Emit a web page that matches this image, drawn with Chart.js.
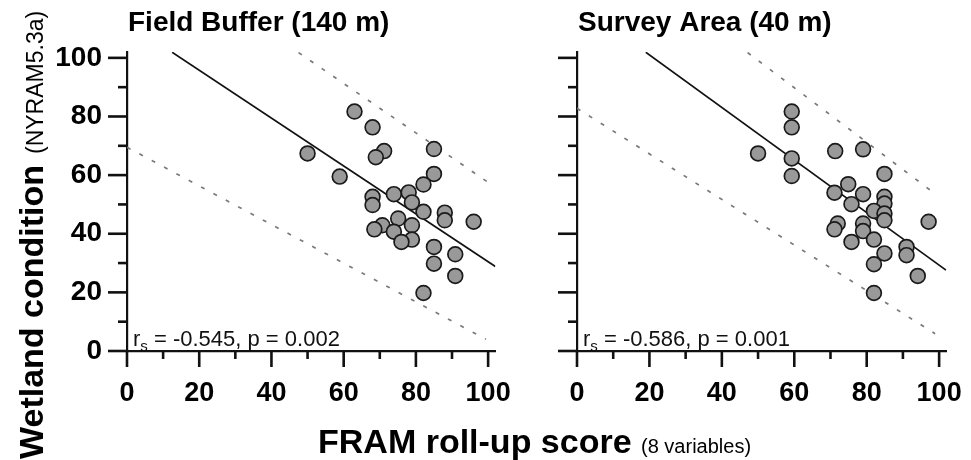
<!DOCTYPE html>
<html><head><meta charset="utf-8">
<script src="https://cdn.jsdelivr.net/npm/chart.js@4/dist/chart.umd.min.js"></script>
<style>
body{margin:0;background:#fff;}
#wrap{position:relative;width:971px;height:460px;overflow:hidden;font-family:"Liberation Sans",Arial,sans-serif;}
canvas{position:absolute;top:0;}
#xt{position:absolute;left:318px;top:421px;line-height:40px;white-space:nowrap;color:#000;}
</style></head><body>
<div id="wrap">
<canvas id="c1" width="520" height="460" style="left:0;width:520px;height:460px"></canvas>
<canvas id="c2" width="451" height="460" style="left:520px;width:451px;height:460px"></canvas>
<div id="xt"><span style="font-weight:bold;font-size:34px">FRAM roll-up score&nbsp;</span><span style="font-size:20px">(8 variables)</span></div>
</div>
<script>
// ---- data ----
const tickValues = [0,10,20,30,40,50,60,70,80,90,100];
const tickLabels = [0,20,40,60,80,100];

const bufferX = [63.0,68.0,50.0,71.2,68.9,85.0,58.9,85.0,82.1,68.0,68.0,73.9,78.0,78.9,82.1,88.0,88.0,96.0,75.1,70.7,68.5,73.9,78.9,78.9,76.0,85.0,90.9,85.0,90.9,82.1];
const bufferY = [81.7,76.3,67.4,68.2,66.1,68.9,59.5,60.4,56.8,52.6,49.8,53.5,54.1,50.7,47.5,47.2,44.6,44.1,45.2,42.9,41.5,40.7,42.9,38.0,37.2,35.5,33.0,29.8,25.6,19.8];
const bufferFitX = [12.5,102.0];
const bufferFitY = [101.9,28.8];
const bufferUpperX = [47.5,99.8];
const bufferUpperY = [101.8,57.7];
const bufferLowerX = [0,99.4];
const bufferLowerY = [69.5,4.0];

const surveyX = [59.3,59.3,50.0,71.3,79.0,59.3,59.3,84.9,74.9,71.1,79.0,84.9,84.9,75.8,82.0,84.9,84.9,97.1,72.0,71.1,79.0,79.0,75.8,82.0,84.9,91.0,91.0,82.0,94.1,82.0];
const surveyY = [81.7,76.3,67.4,68.2,68.8,65.7,59.7,60.4,56.9,54.0,53.5,52.6,50.3,50.1,47.8,46.9,44.6,44.1,43.5,41.5,43.5,40.9,37.2,38.0,33.3,35.5,32.7,29.6,25.6,19.8];
const surveyFitX = [19.0,101.9];
const surveyFitY = [101.9,27.6];
const surveyUpperX = [47.1,98.5];
const surveyUpperY = [101.8,54.0];
const surveyLowerX = [0,98.9];
const surveyLowerY = [82.8,5.9];

const FONT = '"Liberation Sans", Arial, sans-serif';
const pts = (xs, ys) => xs.map((x, i) => ({x, y: ys[i]}));

const tickPlugin = {
  id: 'tickMarks',
  afterDraw(chart) {
    const ctx = chart.ctx, xs = chart.scales.x, ys = chart.scales.y, a = chart.chartArea;
    ctx.save();
    ctx.strokeStyle = '#111';
    ctx.lineWidth = 2.6;
    tickValues.forEach(v => {
      const major = tickLabels.includes(v);
      const px = xs.getPixelForValue(v);
      ctx.beginPath(); ctx.moveTo(px, a.bottom); ctx.lineTo(px, a.bottom + (major ? 16 : 8)); ctx.stroke();
      const py = ys.getPixelForValue(v);
      ctx.beginPath(); ctx.moveTo(a.left, py); ctx.lineTo(a.left - (major ? 19 : 9), py); ctx.stroke();
    });
    ctx.restore();
  }
};

const textPlugin = {
  id: 'panelText',
  afterDraw(chart) {
    const o = chart.options.plugins.panelText;
    const ctx = chart.ctx, a = chart.chartArea;
    ctx.save();
    ctx.fillStyle = '#000';
    ctx.textBaseline = 'alphabetic';
    ctx.textAlign = 'left';
    ctx.font = 'bold 28px ' + FONT;
    ctx.fillText(o.title, a.left + 1, 31);
    ctx.fillStyle = '#111';
    let x = a.left + 6; const y = a.bottom - 5;
    ctx.font = '22px ' + FONT;
    ctx.fillText('r', x, y); x += ctx.measureText('r').width;
    ctx.font = '15px ' + FONT;
    ctx.fillText('s', x, y + 5); x += ctx.measureText('s').width;
    ctx.font = '22px ' + FONT;
    ctx.fillText(' = ' + o.rs + ', p = ' + o.p, x, y);
    if (o.yTitle) {
      ctx.fillStyle = '#000';
      ctx.translate(43, 459);
      ctx.rotate(-Math.PI / 2);
      ctx.font = 'bold 34px ' + FONT;
      ctx.fillText(o.yTitle, 0, 0);
      const w = ctx.measureText(o.yTitle).width;
      ctx.font = '23px ' + FONT;
      ctx.fillText(o.yTitleSub, w + 11, 0);
    }
    ctx.restore();
  }
};

function makeChart(id, xs, ys, fit, upper, lower, opts) {
  const axisCommon = (isX) => ({
    type: 'linear', min: 0, max: 102,
    afterBuildTicks: s => { s.ticks = tickValues.map(v => ({value: v})); },
    afterFit: s => { if (isX) s.height = 109; else s.width = opts.yWidth; },
    grid: {display: true, drawOnChartArea: false, drawTicks: true, tickLength: 17, tickColor: 'rgba(0,0,0,0)'},
    border: {display: true, color: '#111', width: 2.2},
    ticks: {
      padding: isX ? 9 : 8, color: '#000', autoSkip: false, maxRotation: 0,
      font: {family: FONT, size: isX ? 27 : 28, weight: 'bold'},
      callback: v => (tickLabels.includes(v) && (isX || opts.yLabels)) ? String(v) : ''
    }
  });
  const lineDs = (p, color, dash, w) => ({
    type: 'line', data: p, showLine: true, borderColor: color, borderWidth: w,
    borderDash: dash, pointRadius: 0, fill: false, tension: 0
  });
  return new Chart(document.getElementById(id), {
    type: 'scatter',
    data: {
      datasets: [
        {data: pts(xs, ys), pointRadius: 7.4, pointBorderWidth: 1.7,
         pointBackgroundColor: '#999999', pointBorderColor: '#1a1a1a'},
        lineDs(fit, '#111', [], 1.7),
        lineDs(upper, '#7a7a7a', [4, 10], 1.7),
        lineDs(lower, '#7a7a7a', [4, 10], 1.7)
      ]
    },
    options: {
      responsive: false, animation: false,
      layout: {padding: {top: 52, right: 18, left: 0, bottom: 0}},
      scales: {x: axisCommon(true), y: axisCommon(false)},
      plugins: {legend: {display: false}, tooltip: {enabled: false}, panelText: opts.text}
    },
    plugins: [tickPlugin, textPlugin]
  });
}

makeChart('c1', bufferX, bufferY, pts(bufferFitX, bufferFitY), pts(bufferUpperX, bufferUpperY), pts(bufferLowerX, bufferLowerY),
  {yWidth: 127, yLabels: true, text: {title: 'Field Buffer (140 m)', rs: '-0.545', p: '0.002', yTitle: 'Wetland condition', yTitleSub: '(NYRAM5.3a)'}});
makeChart('c2', surveyX, surveyY, pts(surveyFitX, surveyFitY), pts(surveyUpperX, surveyUpperY), pts(surveyLowerX, surveyLowerY),
  {yWidth: 57, yLabels: false, text: {title: 'Survey Area (40 m)', rs: '-0.586', p: '0.001'}});
</script>
</body></html>
